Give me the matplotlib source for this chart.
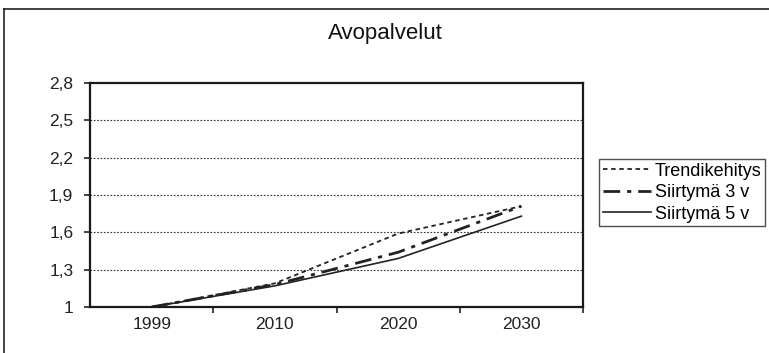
import matplotlib.pyplot as plt
import matplotlib.ticker as ticker
from matplotlib.lines import Line2D

plt.rcParams['font.family'] = ['Liberation Sans', 'DejaVu Sans']

years = ['1999', '2010', '2020', '2030']
trendi = [1.0, 1.19, 1.59, 1.81]
siirtyma3 = [1.0, 1.18, 1.44, 1.81]
siirtyma5 = [1.0, 1.17, 1.39, 1.73]
yticks = [1.0, 1.3, 1.6, 1.9, 2.2, 2.5, 2.8]

fig = plt.figure(figsize=(7.69, 3.53), dpi=100)
ax = fig.add_axes([90 / 769, 46 / 353, 493 / 769, 224 / 353])

x = range(len(years))
ax.plot(x, trendi, color='#222222', lw=1.3, linestyle=(0, (2.5, 2)), label='Trendikehitys')
ax.plot(x, siirtyma3, color='#222222', lw=2.0, linestyle=(0, (6, 2.5, 1.5, 2.5)), label='Siirtymä 3 v')
ax.plot(x, siirtyma5, color='#222222', lw=1.2, linestyle='-', label='Siirtymä 5 v')

ax.set_xlim(-0.5, 3.5)
ax.set_ylim(1.0, 2.8)
ax.set_yticks(yticks)
ax.yaxis.set_major_formatter(ticker.FuncFormatter(
    lambda v, p: '1' if abs(v - 1) < 1e-9 else ('%.1f' % v).replace('.', ',')))
for v in yticks[1:-1]:
    ax.axhline(v, color='#333333', lw=0.8, linestyle=(0, (1.5, 1.5)), zorder=0)

ax.set_xticks(x)
ax.set_xticklabels(years)
ax.tick_params(axis='x', which='major', length=0, pad=7, labelsize=12.5, colors='#222222')
ax.set_xticks([0.5, 1.5, 2.5, 3.5], minor=True)
ax.tick_params(axis='x', which='minor', length=4, width=1.2, direction='out', color='#222222')
ax.tick_params(axis='y', length=4, width=1.2, direction='out', pad=8, labelsize=12.5, colors='#222222')

for s in ax.spines.values():
    s.set_linewidth(1.6)
    s.set_color('#1a1a1a')

fig.text(385 / 769, 1 - 33 / 353, 'Avopalvelut', ha='center', va='center', fontsize=16, color='#111111')

# outer chart border (only left and top edges visible)
fig.add_artist(Line2D([4 / 769, 4 / 769], [0, 1 - 9 / 353], transform=fig.transFigure, color='#222222', lw=1.2))
fig.add_artist(Line2D([4 / 769, 1], [1 - 9 / 353, 1 - 9 / 353], transform=fig.transFigure, color='#222222', lw=1.2))

leg = fig.legend(loc='upper left', bbox_to_anchor=(599 / 769, 1 - 159 / 353), fontsize=13,
                 frameon=True, fancybox=False, edgecolor='#222222', handlelength=2.7,
                 handletextpad=0.2, borderpad=0.2, labelspacing=0.25, borderaxespad=0)
leg.get_frame().set_linewidth(1.0)

fig.savefig('out.png', dpi=100)
